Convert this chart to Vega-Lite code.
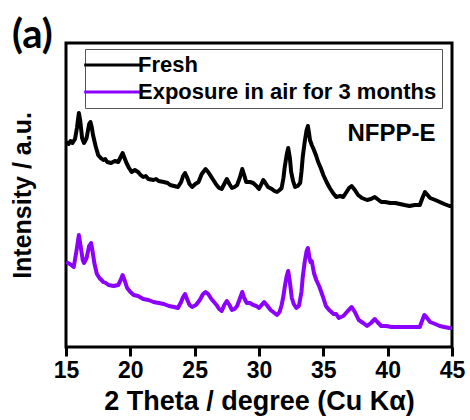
{
  "$schema": "https://vega.github.io/schema/vega-lite/v6.json",
  "autosize": {"type": "none"},
  "width": 386,
  "height": 304,
  "padding": {"left": 66, "top": 43, "right": 18, "bottom": 73},
  "background": "white",
  "title": {
    "text": "(a)",
    "anchor": "start",
    "frame": "group",
    "font": "Lato",
    "fontSize": 40,
    "fontWeight": "bold",
    "color": "black",
    "dx": -54,
    "offset": -13
  },
  "config": {
    "view": {"stroke": "black", "strokeWidth": 3},
    "font": "Liberation Sans"
  },
  "datasets": {
    "xrd": [
      {"theta": 15.0, "intensity": 205, "sample": "Fresh"},
      {"theta": 15.2, "intensity": 203, "sample": "Fresh"},
      {"theta": 15.35, "intensity": 206, "sample": "Fresh"},
      {"theta": 15.5, "intensity": 204, "sample": "Fresh"},
      {"theta": 15.7, "intensity": 208, "sample": "Fresh"},
      {"theta": 15.85, "intensity": 219, "sample": "Fresh"},
      {"theta": 16.0, "intensity": 234, "sample": "Fresh"},
      {"theta": 16.1, "intensity": 227, "sample": "Fresh"},
      {"theta": 16.25, "intensity": 209, "sample": "Fresh"},
      {"theta": 16.4, "intensity": 204, "sample": "Fresh"},
      {"theta": 16.6, "intensity": 209, "sample": "Fresh"},
      {"theta": 16.8, "intensity": 223, "sample": "Fresh"},
      {"theta": 16.9, "intensity": 225, "sample": "Fresh"},
      {"theta": 17.0, "intensity": 220, "sample": "Fresh"},
      {"theta": 17.1, "intensity": 212, "sample": "Fresh"},
      {"theta": 17.3, "intensity": 201, "sample": "Fresh"},
      {"theta": 17.5, "intensity": 192, "sample": "Fresh"},
      {"theta": 17.7, "intensity": 189, "sample": "Fresh"},
      {"theta": 17.9, "intensity": 187, "sample": "Fresh"},
      {"theta": 18.05, "intensity": 188, "sample": "Fresh"},
      {"theta": 18.2, "intensity": 185, "sample": "Fresh"},
      {"theta": 18.5, "intensity": 184, "sample": "Fresh"},
      {"theta": 18.8, "intensity": 186, "sample": "Fresh"},
      {"theta": 19.06, "intensity": 185, "sample": "Fresh"},
      {"theta": 19.25, "intensity": 190, "sample": "Fresh"},
      {"theta": 19.4, "intensity": 194, "sample": "Fresh"},
      {"theta": 19.55, "intensity": 189, "sample": "Fresh"},
      {"theta": 19.7, "intensity": 184, "sample": "Fresh"},
      {"theta": 19.9, "intensity": 179, "sample": "Fresh"},
      {"theta": 20.1, "intensity": 175, "sample": "Fresh"},
      {"theta": 20.35, "intensity": 177, "sample": "Fresh"},
      {"theta": 20.6, "intensity": 175, "sample": "Fresh"},
      {"theta": 20.8, "intensity": 172, "sample": "Fresh"},
      {"theta": 21.0, "intensity": 170, "sample": "Fresh"},
      {"theta": 21.2, "intensity": 171, "sample": "Fresh"},
      {"theta": 21.4, "intensity": 168, "sample": "Fresh"},
      {"theta": 21.8, "intensity": 167, "sample": "Fresh"},
      {"theta": 22.0, "intensity": 168, "sample": "Fresh"},
      {"theta": 22.2, "intensity": 166, "sample": "Fresh"},
      {"theta": 22.6, "intensity": 165, "sample": "Fresh"},
      {"theta": 22.9, "intensity": 164, "sample": "Fresh"},
      {"theta": 23.1, "intensity": 162, "sample": "Fresh"},
      {"theta": 23.4, "intensity": 161, "sample": "Fresh"},
      {"theta": 23.7, "intensity": 160, "sample": "Fresh"},
      {"theta": 23.95, "intensity": 165, "sample": "Fresh"},
      {"theta": 24.1, "intensity": 171, "sample": "Fresh"},
      {"theta": 24.25, "intensity": 174, "sample": "Fresh"},
      {"theta": 24.4, "intensity": 170, "sample": "Fresh"},
      {"theta": 24.6, "intensity": 163, "sample": "Fresh"},
      {"theta": 24.8, "intensity": 160, "sample": "Fresh"},
      {"theta": 25.05, "intensity": 163, "sample": "Fresh"},
      {"theta": 25.3, "intensity": 165, "sample": "Fresh"},
      {"theta": 25.55, "intensity": 173, "sample": "Fresh"},
      {"theta": 25.85, "intensity": 178, "sample": "Fresh"},
      {"theta": 26.05, "intensity": 175, "sample": "Fresh"},
      {"theta": 26.3, "intensity": 170, "sample": "Fresh"},
      {"theta": 26.5, "intensity": 166, "sample": "Fresh"},
      {"theta": 26.7, "intensity": 162, "sample": "Fresh"},
      {"theta": 26.9, "intensity": 159, "sample": "Fresh"},
      {"theta": 27.1, "intensity": 158, "sample": "Fresh"},
      {"theta": 27.3, "intensity": 163, "sample": "Fresh"},
      {"theta": 27.5, "intensity": 168, "sample": "Fresh"},
      {"theta": 27.7, "intensity": 163, "sample": "Fresh"},
      {"theta": 27.9, "intensity": 159, "sample": "Fresh"},
      {"theta": 28.1, "intensity": 160, "sample": "Fresh"},
      {"theta": 28.3, "intensity": 162, "sample": "Fresh"},
      {"theta": 28.5, "intensity": 169, "sample": "Fresh"},
      {"theta": 28.7, "intensity": 178, "sample": "Fresh"},
      {"theta": 28.85, "intensity": 172, "sample": "Fresh"},
      {"theta": 29.0, "intensity": 165, "sample": "Fresh"},
      {"theta": 29.3, "intensity": 165, "sample": "Fresh"},
      {"theta": 29.55, "intensity": 164, "sample": "Fresh"},
      {"theta": 29.8, "intensity": 161, "sample": "Fresh"},
      {"theta": 30.0, "intensity": 158, "sample": "Fresh"},
      {"theta": 30.15, "intensity": 162, "sample": "Fresh"},
      {"theta": 30.33, "intensity": 167, "sample": "Fresh"},
      {"theta": 30.5, "intensity": 164, "sample": "Fresh"},
      {"theta": 30.7, "intensity": 160, "sample": "Fresh"},
      {"theta": 31.0, "intensity": 158, "sample": "Fresh"},
      {"theta": 31.2, "intensity": 156, "sample": "Fresh"},
      {"theta": 31.4, "intensity": 155, "sample": "Fresh"},
      {"theta": 31.6, "intensity": 157, "sample": "Fresh"},
      {"theta": 31.76, "intensity": 159, "sample": "Fresh"},
      {"theta": 31.9, "intensity": 169, "sample": "Fresh"},
      {"theta": 32.0, "intensity": 180, "sample": "Fresh"},
      {"theta": 32.15, "intensity": 192, "sample": "Fresh"},
      {"theta": 32.27, "intensity": 199, "sample": "Fresh"},
      {"theta": 32.4, "intensity": 189, "sample": "Fresh"},
      {"theta": 32.5, "intensity": 175, "sample": "Fresh"},
      {"theta": 32.65, "intensity": 166, "sample": "Fresh"},
      {"theta": 32.8, "intensity": 160, "sample": "Fresh"},
      {"theta": 33.0, "intensity": 161, "sample": "Fresh"},
      {"theta": 33.2, "intensity": 164, "sample": "Fresh"},
      {"theta": 33.3, "intensity": 175, "sample": "Fresh"},
      {"theta": 33.4, "intensity": 190, "sample": "Fresh"},
      {"theta": 33.55, "intensity": 205, "sample": "Fresh"},
      {"theta": 33.7, "intensity": 217, "sample": "Fresh"},
      {"theta": 33.8, "intensity": 221, "sample": "Fresh"},
      {"theta": 33.9, "intensity": 213, "sample": "Fresh"},
      {"theta": 33.96, "intensity": 207, "sample": "Fresh"},
      {"theta": 34.1, "intensity": 202, "sample": "Fresh"},
      {"theta": 34.27, "intensity": 197, "sample": "Fresh"},
      {"theta": 34.45, "intensity": 191, "sample": "Fresh"},
      {"theta": 34.6, "intensity": 185, "sample": "Fresh"},
      {"theta": 34.8, "intensity": 179, "sample": "Fresh"},
      {"theta": 35.0, "intensity": 172, "sample": "Fresh"},
      {"theta": 35.25, "intensity": 165, "sample": "Fresh"},
      {"theta": 35.5, "intensity": 159, "sample": "Fresh"},
      {"theta": 35.75, "intensity": 154, "sample": "Fresh"},
      {"theta": 36.0, "intensity": 150, "sample": "Fresh"},
      {"theta": 36.3, "intensity": 151, "sample": "Fresh"},
      {"theta": 36.55, "intensity": 150, "sample": "Fresh"},
      {"theta": 36.8, "intensity": 155, "sample": "Fresh"},
      {"theta": 37.0, "intensity": 159, "sample": "Fresh"},
      {"theta": 37.2, "intensity": 161, "sample": "Fresh"},
      {"theta": 37.45, "intensity": 157, "sample": "Fresh"},
      {"theta": 37.7, "intensity": 152, "sample": "Fresh"},
      {"theta": 38.0, "intensity": 149, "sample": "Fresh"},
      {"theta": 38.4, "intensity": 147, "sample": "Fresh"},
      {"theta": 38.7, "intensity": 148, "sample": "Fresh"},
      {"theta": 39.0, "intensity": 150, "sample": "Fresh"},
      {"theta": 39.2, "intensity": 148, "sample": "Fresh"},
      {"theta": 39.5, "intensity": 145, "sample": "Fresh"},
      {"theta": 39.8, "intensity": 145, "sample": "Fresh"},
      {"theta": 40.2, "intensity": 144, "sample": "Fresh"},
      {"theta": 40.6, "intensity": 144, "sample": "Fresh"},
      {"theta": 40.95, "intensity": 143, "sample": "Fresh"},
      {"theta": 41.3, "intensity": 142, "sample": "Fresh"},
      {"theta": 41.7, "intensity": 141, "sample": "Fresh"},
      {"theta": 42.1, "intensity": 142, "sample": "Fresh"},
      {"theta": 42.5, "intensity": 142, "sample": "Fresh"},
      {"theta": 42.7, "intensity": 149, "sample": "Fresh"},
      {"theta": 42.9, "intensity": 155, "sample": "Fresh"},
      {"theta": 43.1, "intensity": 152, "sample": "Fresh"},
      {"theta": 43.3, "intensity": 149, "sample": "Fresh"},
      {"theta": 43.7, "intensity": 147, "sample": "Fresh"},
      {"theta": 44.05, "intensity": 145, "sample": "Fresh"},
      {"theta": 44.4, "intensity": 143, "sample": "Fresh"},
      {"theta": 44.8, "intensity": 141, "sample": "Fresh"},
      {"theta": 45.0, "intensity": 141, "sample": "Fresh"},

      {"theta": 15.0, "intensity": 85, "sample": "Exposure in air for 3 months"},
      {"theta": 15.3, "intensity": 83, "sample": "Exposure in air for 3 months"},
      {"theta": 15.6, "intensity": 80, "sample": "Exposure in air for 3 months"},
      {"theta": 15.8, "intensity": 95, "sample": "Exposure in air for 3 months"},
      {"theta": 16.0, "intensity": 112, "sample": "Exposure in air for 3 months"},
      {"theta": 16.1, "intensity": 104, "sample": "Exposure in air for 3 months"},
      {"theta": 16.3, "intensity": 87, "sample": "Exposure in air for 3 months"},
      {"theta": 16.4, "intensity": 84, "sample": "Exposure in air for 3 months"},
      {"theta": 16.6, "intensity": 89, "sample": "Exposure in air for 3 months"},
      {"theta": 16.8, "intensity": 101, "sample": "Exposure in air for 3 months"},
      {"theta": 16.95, "intensity": 104, "sample": "Exposure in air for 3 months"},
      {"theta": 17.05, "intensity": 97, "sample": "Exposure in air for 3 months"},
      {"theta": 17.2, "intensity": 84, "sample": "Exposure in air for 3 months"},
      {"theta": 17.4, "intensity": 73, "sample": "Exposure in air for 3 months"},
      {"theta": 17.6, "intensity": 69, "sample": "Exposure in air for 3 months"},
      {"theta": 17.9, "intensity": 65, "sample": "Exposure in air for 3 months"},
      {"theta": 18.1, "intensity": 64, "sample": "Exposure in air for 3 months"},
      {"theta": 18.3, "intensity": 62, "sample": "Exposure in air for 3 months"},
      {"theta": 18.7, "intensity": 61, "sample": "Exposure in air for 3 months"},
      {"theta": 19.06, "intensity": 62, "sample": "Exposure in air for 3 months"},
      {"theta": 19.25, "intensity": 67, "sample": "Exposure in air for 3 months"},
      {"theta": 19.4, "intensity": 72, "sample": "Exposure in air for 3 months"},
      {"theta": 19.55, "intensity": 67, "sample": "Exposure in air for 3 months"},
      {"theta": 19.75, "intensity": 59, "sample": "Exposure in air for 3 months"},
      {"theta": 20.0, "intensity": 55, "sample": "Exposure in air for 3 months"},
      {"theta": 20.26, "intensity": 52, "sample": "Exposure in air for 3 months"},
      {"theta": 20.6, "intensity": 51, "sample": "Exposure in air for 3 months"},
      {"theta": 21.0, "intensity": 48, "sample": "Exposure in air for 3 months"},
      {"theta": 21.4, "intensity": 47, "sample": "Exposure in air for 3 months"},
      {"theta": 21.8, "intensity": 45, "sample": "Exposure in air for 3 months"},
      {"theta": 22.2, "intensity": 44, "sample": "Exposure in air for 3 months"},
      {"theta": 22.6, "intensity": 43, "sample": "Exposure in air for 3 months"},
      {"theta": 23.0, "intensity": 41, "sample": "Exposure in air for 3 months"},
      {"theta": 23.4, "intensity": 40, "sample": "Exposure in air for 3 months"},
      {"theta": 23.7, "intensity": 39, "sample": "Exposure in air for 3 months"},
      {"theta": 23.95, "intensity": 45, "sample": "Exposure in air for 3 months"},
      {"theta": 24.1, "intensity": 50, "sample": "Exposure in air for 3 months"},
      {"theta": 24.25, "intensity": 53, "sample": "Exposure in air for 3 months"},
      {"theta": 24.4, "intensity": 48, "sample": "Exposure in air for 3 months"},
      {"theta": 24.6, "intensity": 42, "sample": "Exposure in air for 3 months"},
      {"theta": 24.8, "intensity": 40, "sample": "Exposure in air for 3 months"},
      {"theta": 25.1, "intensity": 42, "sample": "Exposure in air for 3 months"},
      {"theta": 25.4, "intensity": 47, "sample": "Exposure in air for 3 months"},
      {"theta": 25.65, "intensity": 53, "sample": "Exposure in air for 3 months"},
      {"theta": 25.85, "intensity": 55, "sample": "Exposure in air for 3 months"},
      {"theta": 26.05, "intensity": 53, "sample": "Exposure in air for 3 months"},
      {"theta": 26.3, "intensity": 48, "sample": "Exposure in air for 3 months"},
      {"theta": 26.7, "intensity": 42, "sample": "Exposure in air for 3 months"},
      {"theta": 26.9, "intensity": 38, "sample": "Exposure in air for 3 months"},
      {"theta": 27.1, "intensity": 36, "sample": "Exposure in air for 3 months"},
      {"theta": 27.3, "intensity": 42, "sample": "Exposure in air for 3 months"},
      {"theta": 27.5, "intensity": 46, "sample": "Exposure in air for 3 months"},
      {"theta": 27.7, "intensity": 42, "sample": "Exposure in air for 3 months"},
      {"theta": 27.9, "intensity": 37, "sample": "Exposure in air for 3 months"},
      {"theta": 28.1, "intensity": 38, "sample": "Exposure in air for 3 months"},
      {"theta": 28.3, "intensity": 41, "sample": "Exposure in air for 3 months"},
      {"theta": 28.5, "intensity": 48, "sample": "Exposure in air for 3 months"},
      {"theta": 28.7, "intensity": 55, "sample": "Exposure in air for 3 months"},
      {"theta": 28.85, "intensity": 49, "sample": "Exposure in air for 3 months"},
      {"theta": 29.05, "intensity": 44, "sample": "Exposure in air for 3 months"},
      {"theta": 29.3, "intensity": 44, "sample": "Exposure in air for 3 months"},
      {"theta": 29.55, "intensity": 42, "sample": "Exposure in air for 3 months"},
      {"theta": 29.8, "intensity": 41, "sample": "Exposure in air for 3 months"},
      {"theta": 30.0, "intensity": 39, "sample": "Exposure in air for 3 months"},
      {"theta": 30.2, "intensity": 42, "sample": "Exposure in air for 3 months"},
      {"theta": 30.4, "intensity": 45, "sample": "Exposure in air for 3 months"},
      {"theta": 30.6, "intensity": 42, "sample": "Exposure in air for 3 months"},
      {"theta": 30.9, "intensity": 37, "sample": "Exposure in air for 3 months"},
      {"theta": 31.2, "intensity": 34, "sample": "Exposure in air for 3 months"},
      {"theta": 31.4, "intensity": 32, "sample": "Exposure in air for 3 months"},
      {"theta": 31.6, "intensity": 35, "sample": "Exposure in air for 3 months"},
      {"theta": 31.76, "intensity": 42, "sample": "Exposure in air for 3 months"},
      {"theta": 31.9, "intensity": 51, "sample": "Exposure in air for 3 months"},
      {"theta": 32.0, "intensity": 60, "sample": "Exposure in air for 3 months"},
      {"theta": 32.15, "intensity": 71, "sample": "Exposure in air for 3 months"},
      {"theta": 32.27, "intensity": 76, "sample": "Exposure in air for 3 months"},
      {"theta": 32.4, "intensity": 65, "sample": "Exposure in air for 3 months"},
      {"theta": 32.55, "intensity": 49, "sample": "Exposure in air for 3 months"},
      {"theta": 32.7, "intensity": 43, "sample": "Exposure in air for 3 months"},
      {"theta": 32.9, "intensity": 39, "sample": "Exposure in air for 3 months"},
      {"theta": 33.1, "intensity": 41, "sample": "Exposure in air for 3 months"},
      {"theta": 33.3, "intensity": 55, "sample": "Exposure in air for 3 months"},
      {"theta": 33.4, "intensity": 70, "sample": "Exposure in air for 3 months"},
      {"theta": 33.55, "intensity": 85, "sample": "Exposure in air for 3 months"},
      {"theta": 33.7, "intensity": 96, "sample": "Exposure in air for 3 months"},
      {"theta": 33.8, "intensity": 99, "sample": "Exposure in air for 3 months"},
      {"theta": 33.9, "intensity": 91, "sample": "Exposure in air for 3 months"},
      {"theta": 34.0, "intensity": 85, "sample": "Exposure in air for 3 months"},
      {"theta": 34.1, "intensity": 86, "sample": "Exposure in air for 3 months"},
      {"theta": 34.27, "intensity": 74, "sample": "Exposure in air for 3 months"},
      {"theta": 34.45, "intensity": 67, "sample": "Exposure in air for 3 months"},
      {"theta": 34.7, "intensity": 60, "sample": "Exposure in air for 3 months"},
      {"theta": 34.95, "intensity": 51, "sample": "Exposure in air for 3 months"},
      {"theta": 35.2, "intensity": 41, "sample": "Exposure in air for 3 months"},
      {"theta": 35.45, "intensity": 37, "sample": "Exposure in air for 3 months"},
      {"theta": 35.8, "intensity": 33, "sample": "Exposure in air for 3 months"},
      {"theta": 36.0, "intensity": 33, "sample": "Exposure in air for 3 months"},
      {"theta": 36.2, "intensity": 29, "sample": "Exposure in air for 3 months"},
      {"theta": 36.55, "intensity": 31, "sample": "Exposure in air for 3 months"},
      {"theta": 36.9, "intensity": 36, "sample": "Exposure in air for 3 months"},
      {"theta": 37.2, "intensity": 40, "sample": "Exposure in air for 3 months"},
      {"theta": 37.45, "intensity": 35, "sample": "Exposure in air for 3 months"},
      {"theta": 37.75, "intensity": 27, "sample": "Exposure in air for 3 months"},
      {"theta": 38.1, "intensity": 24, "sample": "Exposure in air for 3 months"},
      {"theta": 38.4, "intensity": 21, "sample": "Exposure in air for 3 months"},
      {"theta": 38.7, "intensity": 24, "sample": "Exposure in air for 3 months"},
      {"theta": 39.0, "intensity": 28, "sample": "Exposure in air for 3 months"},
      {"theta": 39.2, "intensity": 25, "sample": "Exposure in air for 3 months"},
      {"theta": 39.5, "intensity": 21, "sample": "Exposure in air for 3 months"},
      {"theta": 39.9, "intensity": 21, "sample": "Exposure in air for 3 months"},
      {"theta": 40.3, "intensity": 20, "sample": "Exposure in air for 3 months"},
      {"theta": 40.7, "intensity": 20, "sample": "Exposure in air for 3 months"},
      {"theta": 41.1, "intensity": 20, "sample": "Exposure in air for 3 months"},
      {"theta": 41.7, "intensity": 20, "sample": "Exposure in air for 3 months"},
      {"theta": 42.1, "intensity": 20, "sample": "Exposure in air for 3 months"},
      {"theta": 42.5, "intensity": 20, "sample": "Exposure in air for 3 months"},
      {"theta": 42.7, "intensity": 27, "sample": "Exposure in air for 3 months"},
      {"theta": 42.85, "intensity": 32, "sample": "Exposure in air for 3 months"},
      {"theta": 43.0, "intensity": 30, "sample": "Exposure in air for 3 months"},
      {"theta": 43.3, "intensity": 25, "sample": "Exposure in air for 3 months"},
      {"theta": 43.7, "intensity": 23, "sample": "Exposure in air for 3 months"},
      {"theta": 44.05, "intensity": 21, "sample": "Exposure in air for 3 months"},
      {"theta": 44.4, "intensity": 20, "sample": "Exposure in air for 3 months"},
      {"theta": 44.8, "intensity": 19, "sample": "Exposure in air for 3 months"},
      {"theta": 45.0, "intensity": 19, "sample": "Exposure in air for 3 months"}
    ]
  },
  "layer": [
    {
      "data": {"name": "xrd"},
      "mark": {"type": "line", "strokeWidth": 4, "strokeJoin": "round", "clip": true},
      "encoding": {
        "x": {
          "field": "theta",
          "type": "quantitative",
          "scale": {"domain": [15, 45], "nice": false, "zero": false},
          "axis": {
            "title": "2 Theta / degree (Cu Kα)",
            "values": [15, 17.5, 20, 22.5, 25, 27.5, 30, 32.5, 35, 37.5, 40, 42.5, 45],
            "labelExpr": "datum.value % 5 === 0 ? datum.label : ''",
            "tickSize": {"condition": {"test": "datum.value % 5 === 0", "value": 9}, "value": 5},
            "tickWidth": 3,
            "tickColor": "black",
            "domain": false,
            "grid": false,
            "labelFont": "Liberation Sans",
            "labelFontWeight": "bold",
            "labelFontSize": 23,
            "labelColor": "black",
            "labelPadding": 3,
            "labelFlush": false,
            "labelOverlap": false,
            "labelBound": false,
            "titleFont": "Liberation Sans",
            "titleFontWeight": "bold",
            "titleFontSize": 27,
            "titleColor": "black",
            "titlePadding": 6
          }
        },
        "y": {
          "field": "intensity",
          "type": "quantitative",
          "scale": {"domain": [0, 304], "nice": false},
          "axis": {
            "title": "Intensity / a.u.",
            "domain": false,
            "ticks": false,
            "labels": false,
            "grid": false,
            "titleFont": "Liberation Sans",
            "titleFontWeight": "bold",
            "titleFontSize": 25,
            "titleColor": "black",
            "titlePadding": 31
          }
        },
        "color": {
          "field": "sample",
          "type": "nominal",
          "scale": {
            "domain": ["Fresh", "Exposure in air for 3 months"],
            "range": ["#000000", "#8C00FF"]
          },
          "legend": {
            "orient": "none",
            "legendX": 19,
            "legendY": 6,
            "title": null,
            "symbolType": "M-1,0H9",
            "symbolSize": 135,
            "symbolStrokeWidth": 3,
            "symbolOffset": -11,
            "labelFont": "Liberation Sans",
            "labelFontWeight": "bold",
            "labelFontSize": 22,
            "labelColor": "black",
            "labelLimit": 400,
            "labelOffset": 37,
            "strokeColor": "#555555",
            "padding": 5,
            "rowPadding": 5
          }
        }
      }
    },
    {
      "data": {"values": [{"label": "NFPP-E"}]},
      "mark": {
        "type": "text",
        "font": "Liberation Sans",
        "fontWeight": "bold",
        "fontSize": 24,
        "color": "black",
        "align": "center",
        "baseline": "alphabetic"
      },
      "encoding": {
        "text": {"field": "label"},
        "x": {"datum": 40.3, "type": "quantitative"},
        "y": {"datum": 206.5, "type": "quantitative"}
      }
    }
  ]
}
